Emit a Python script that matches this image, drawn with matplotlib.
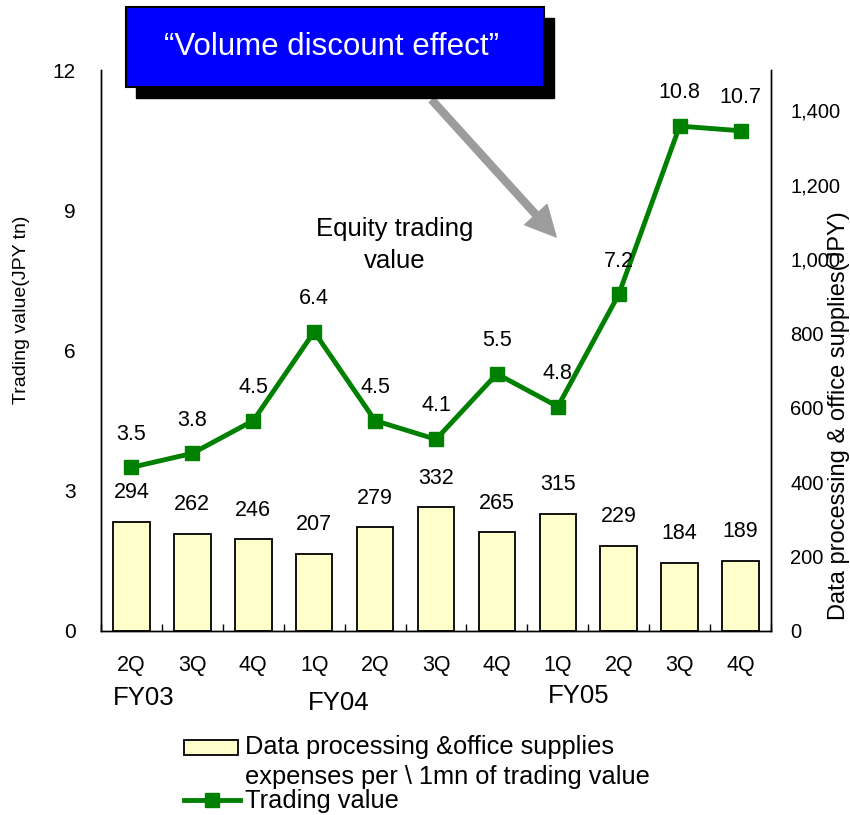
import matplotlib
matplotlib.use("Agg")
import matplotlib.pyplot as plt
from matplotlib.patches import Rectangle, FancyArrowPatch
from matplotlib.lines import Line2D
import numpy as np

plt.rcParams['font.family'] = ['Liberation Sans', 'DejaVu Sans']

quarters = ["2Q", "3Q", "4Q", "1Q", "2Q", "3Q", "4Q", "1Q", "2Q", "3Q", "4Q"]
fiscal_years = ["FY03", "FY04", "FY05"]
fy_positions = [0.2, 3.4, 7.35]
expenses = [294, 262, 246, 207, 279, 332, 265, 315, 229, 184, 189]
trading_value = [3.5, 3.8, 4.5, 6.4, 4.5, 4.1, 5.5, 4.8, 7.2, 10.8, 10.7]

W, H = 850, 815
fig = plt.figure(figsize=(8.5, 8.15), dpi=100)
ax = fig.add_axes([101 / W, 1 - 631 / H, 670 / W, 561 / H])
ax2 = ax.twinx()

x = np.arange(len(quarters))
green = "#008000"
bar_color = "#FFFFCC"

# bars on right axis
ax2.bar(x, expenses, width=0.6, color=bar_color, edgecolor="black", linewidth=1.3, zorder=2)
ax2.set_ylim(0, 1508)
ax2.set_yticks(np.arange(0, 1401, 200))
ax2.set_yticklabels([f"{v:,}" for v in range(0, 1401, 200)])
for xi, v in zip(x, expenses):
    ax2.annotate(str(v), (xi, v), xytext=(0, 21), textcoords="offset points",
                 ha="center", va="center", fontsize=15.5)

# line on left axis (drawn on top)
ax.set_zorder(ax2.get_zorder() + 1)
ax.patch.set_visible(False)
ax.plot(x, trading_value, color=green, linewidth=3.5, marker="s", markersize=9.5, zorder=3)
for xi, v in zip(x, trading_value):
    ax.annotate(f"{v:.1f}", (xi, v), xytext=(0, 24), textcoords="offset points",
                ha="center", va="center", fontsize=15.5)

ax.set_ylim(0, 12)
ax.set_yticks([0, 3, 6, 9, 12])
ax.set_xlim(-0.5, len(quarters) - 0.5)
ax.set_xticks(x)
ax.set_xticklabels(quarters, fontsize=15.5)
ax.set_xticks(np.arange(-0.5, len(quarters), 1), minor=True)
ax.tick_params(axis="x", which="major", length=0, pad=17)
ax.tick_params(axis="x", which="minor", direction="in", length=5, width=1)
ax.tick_params(axis="y", length=0, pad=18, labelsize=15)
ax2.tick_params(axis="y", length=0, pad=14, labelsize=14.5)

for a in (ax, ax2):
    a.spines["top"].set_visible(False)
    for s in ("left", "right", "bottom"):
        a.spines[s].set_linewidth(1.0)

fy_offsets = [67, 72, 65]
for pos, lab, off in zip(fy_positions, fiscal_years, fy_offsets):
    ax.text(pos, -off / 561, lab, transform=ax.get_xaxis_transform(), fontsize=18.5,
            ha="center", va="center")

fig.text(22 / W, 1 - 310 / H, "Trading value(JPY tn)", rotation=90, fontsize=14,
         ha="center", va="center")
fig.text(839 / W, 1 - 620 / H, "Data processing & office supplies(JPY)", rotation=90,
         fontsize=17, ha="center", va="bottom")

fig.text(395 / W, 1 - 229 / H, "Equity trading", fontsize=18.5, ha="center", va="center")
fig.text(395 / W, 1 - 261 / H, "value", fontsize=18.5, ha="center", va="center")

# callout box with shadow
fig.patches.append(Rectangle((136 / W, 1 - 98 / H), 418 / W, 80 / H,
                             transform=fig.transFigure, facecolor="black",
                             edgecolor="black", zorder=5))
fig.patches.append(Rectangle((126 / W, 1 - 87 / H), 418 / W, 80 / H,
                             transform=fig.transFigure, facecolor="#0000FF",
                             edgecolor="black", linewidth=1.5, zorder=6))
fig.text(332 / W, 1 - 47 / H, "\u201cVolume discount effect\u201d", color="white",
         fontsize=22.5, ha="center", va="center", zorder=7)

# gray arrow
fig.patches.append(FancyArrowPatch((430 / W, 1 - 98 / H), (558 / W, 1 - 239 / H),
                                   transform=fig.transFigure,
                                   arrowstyle="simple,head_length=1.55,head_width=1.55,tail_width=0.36",
                                   mutation_scale=14, color="#9C9C9C", zorder=4))

# legend drawn in figure coordinates
fig.patches.append(Rectangle((184 / W, 1 - 755 / H), 54 / W, 15 / H,
                             transform=fig.transFigure, facecolor=bar_color,
                             edgecolor="black", linewidth=1.3))
fig.text(245 / W, 1 - 747 / H, "Data processing &office supplies",
         fontsize=18.3, ha="left", va="center")
fig.text(245 / W, 1 - 777 / H, "expenses per \\ 1mn of trading value",
         fontsize=18.3, ha="left", va="center")
fig.lines.append(Line2D([184 / W, 212 / W, 240 / W], [1 - 800 / H] * 3, color=green,
                        linewidth=3.5, marker="s", markersize=9.5, markevery=[1],
                        transform=fig.transFigure))
fig.text(245 / W, 1 - 801 / H, "Trading value", fontsize=18.3, ha="left", va="center")

fig.savefig("out.png", dpi=100)
